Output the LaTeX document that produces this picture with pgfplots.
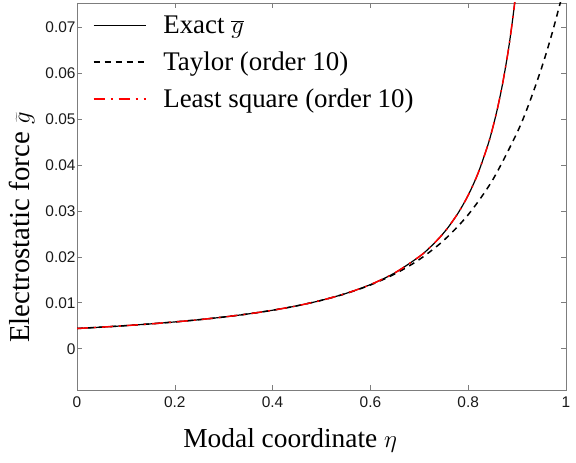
\documentclass[border=0pt]{standalone}
\usepackage{pgfplots}
\pgfplotsset{compat=1.18}
\usepackage{fontspec}
\setmainfont{Liberation Serif}
\setsansfont{Liberation Sans}
\definecolor{axgray}{RGB}{125,125,125}
\definecolor{lsred}{RGB}{255,0,0}
\pgfplotstableread{
x y
0 0.00440
0.05 0.004694
0.1 0.005025
0.15 0.005400
0.2 0.005828
0.25 0.006322
0.3 0.006897
0.35 0.007572
0.4 0.008375
0.45 0.009346
0.5 0.010538
0.55 0.012034
0.6 0.013959
0.65 0.016518
0.7 0.020058
0.72 0.021879
0.74 0.024021
0.75 0.025238
0.76 0.026571
0.78 0.029647
0.8 0.033430
0.82 0.038176
0.84 0.044287
0.85 0.048040
0.86 0.052406
0.87 0.057530
0.88 0.063637
0.885 0.06714
0.89 0.071007
0.895 0.07529
0.9 0.08007
}\exacttable
\pgfplotstableread{
x y
0 0.00440
0.05 0.004694
0.1 0.005025
0.15 0.005400
0.2 0.005828
0.25 0.006322
0.3 0.006897
0.35 0.007572
0.4 0.008375
0.45 0.009346
0.5 0.010535
0.55 0.012010
0.6 0.013873
0.65 0.016278
0.7 0.019423
0.75 0.023594
0.8 0.029188
0.85 0.036759
0.9 0.047066
0.925 0.053556
0.95 0.061143
0.97 0.068128
0.99 0.076046
1.0 0.080390
}\taylortable
\pgfplotstableread{
x y
0 0.00440
0.05 0.004694
0.1 0.005025
0.15 0.005400
0.2 0.005828
0.25 0.006322
0.3 0.006897
0.35 0.007572
0.4 0.008375
0.45 0.009346
0.5 0.010538
0.55 0.012034
0.6 0.013959
0.65 0.016518
0.7 0.020058
0.72 0.021879
0.74 0.024021
0.75 0.025238
0.76 0.026571
0.78 0.029647
0.8 0.033430
0.82 0.038176
0.84 0.044287
0.85 0.048040
0.86 0.052406
0.87 0.057530
0.88 0.063637
0.885 0.06714
0.89 0.071007
0.895 0.07529
0.9 0.08007
}\lstable
\begin{document}
\begin{tikzpicture}
\begin{axis}[
  scale only axis, width=489bp, height=387bp,
  xmin=0, xmax=1, ymin=-0.009, ymax=0.0753,
  xtick={0,0.2,0.4,0.6,0.8,1},
  xticklabels={0,0.2,0.4,0.6,0.8,1},
  ytick={0,0.01,0.02,0.03,0.04,0.05,0.06,0.07},
  yticklabels={0,0.01,0.02,0.03,0.04,0.05,0.06,0.07},
  scaled ticks=false,
  tick align=inside, tick pos=both,
  major tick length=5bp,
  axis line style={axgray, line width=0.8bp},
  tick style={axgray, line width=0.6bp},
  ticklabel style={font=\sffamily\fontsize{15.5}{15.5}\selectfont, text=black!90},
  xticklabel style={yshift=-3bp},
  yticklabel style={xshift=2bp},
  xlabel={Modal coordinate $\eta$},
  ylabel={Electrostatic force $\widetilde{g}$},
  xlabel style={font=\fontsize{27.5}{27.5}\selectfont, at={(axis description cs:0.436,-0.129)}, anchor=center},
  ylabel style={font=\fontsize{29}{29}\selectfont, at={(axis description cs:-0.1125,0.42)}, anchor=center, rotate=0},
  legend style={draw=none, fill=none, at={(0.03,0.975)}, anchor=north west,
    font=\fontsize{27}{27}\selectfont, row sep=13bp, inner sep=1bp,
    /tikz/every odd column/.append style={column sep=15bp}},
  legend cell align=left,
  legend image code/.code={\draw[#1] (0bp,0bp) -- (52bp,0bp);},
]
\addplot[black, line width=1.2bp, smooth] table {\exacttable};
\addlegendentry{Exact $\overline{g}$}
\addplot[black, line width=1.5bp, smooth, dash pattern=on 6bp off 5bp] table {\taylortable};
\addlegendentry{Taylor (order 10)}
\addplot[color=lsred, line width=1.5bp, smooth, dash pattern=on 11bp off 6bp on 2bp off 6bp] table {\lstable};
\addlegendentry{Least square (order 10)}
\end{axis}
\pgfresetboundingbox
\path ([shift={(-77bp,-73bp)}]current axis.south west) rectangle ([shift={(10bp,3bp)}]current axis.north east);
\end{tikzpicture}
\end{document}
